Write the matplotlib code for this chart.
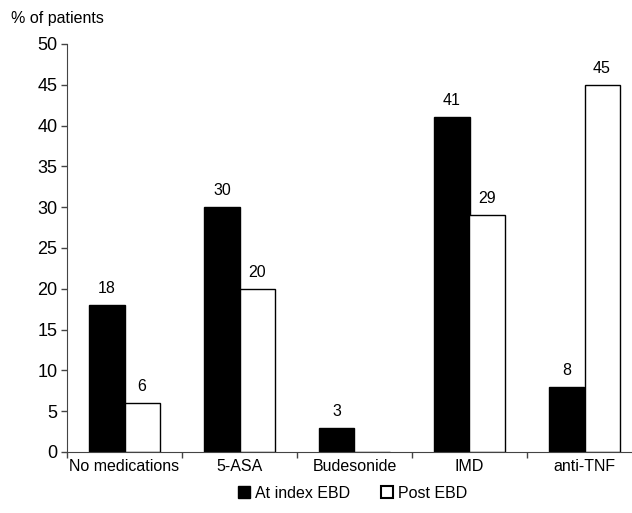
import numpy as np
import matplotlib
matplotlib.use("Agg")
import matplotlib.pyplot as plt
from matplotlib.lines import Line2D

plt.rcParams["font.family"] = ["Liberation Sans", "DejaVu Sans"]

# Data
categories = ["No medications", "5-ASA", "Budesonide", "IMD", "anti-TNF"]
at_index = [18, 30, 3, 41, 8]
post_ebd = [6, 20, 0, 29, 45]
series_names = ["At index EBD", "Post EBD"]

fig = plt.figure(figsize=(6.32, 5.13), dpi=100)
ax = fig.add_axes([67 / 632, 1 - 452 / 513, 575 / 632, 408 / 513])

x = np.arange(len(categories))
w = 0.305
b1 = ax.bar(x - w / 2, at_index, w, color="black", edgecolor="black", linewidth=1)
b2 = ax.bar(x + w / 2, post_ebd, w, color="white", edgecolor="black", linewidth=1)

# Value labels (skip empty bars)
for bars, vals in [(b1, at_index), (b2, post_ebd)]:
    for bar, v in zip(bars, vals):
        if v > 0:
            ax.text(bar.get_x() + bar.get_width() / 2, v + 1.1, str(v),
                    ha="center", va="bottom", fontsize=11.5)

ax.set_xlim(-0.5, len(categories) - 0.5)
ax.set_ylim(0, 50)
ax.set_yticks(range(0, 51, 5))
ax.set_xticks(np.arange(len(categories) + 1) - 0.5)
ax.set_xticklabels([])
ax.set_xticks(x, minor=True)
ax.set_xticklabels(categories, minor=True)
ax.tick_params(axis="x", which="minor", length=0, pad=5, labelsize=11.5)
ax.tick_params(axis="x", which="major", length=4, width=1, color="#444444")
ax.tick_params(axis="y", length=4, width=1, color="#444444", labelsize=13, pad=3)

for s in ["top", "right"]:
    ax.spines[s].set_visible(False)
ax.spines["left"].set_color("#444444")
ax.spines["bottom"].set_color("#444444")

fig.text(11 / 632, 1 - 18 / 513, "% of patients", fontsize=11.5, va="center", ha="left")

handles = [
    Line2D([], [], marker="s", linestyle="none", markersize=8,
           markerfacecolor="black", markeredgecolor="black"),
    Line2D([], [], marker="s", linestyle="none", markersize=8,
           markerfacecolor="white", markeredgecolor="black", markeredgewidth=1.5),
]
fig.legend(handles, series_names, loc="center", bbox_to_anchor=(352 / 632, 1 - 493 / 513),
           ncol=2, frameon=False, fontsize=11.5, handletextpad=0.2, columnspacing=1.8,
           handlelength=1.0)

fig.savefig("out.png", dpi=100)
